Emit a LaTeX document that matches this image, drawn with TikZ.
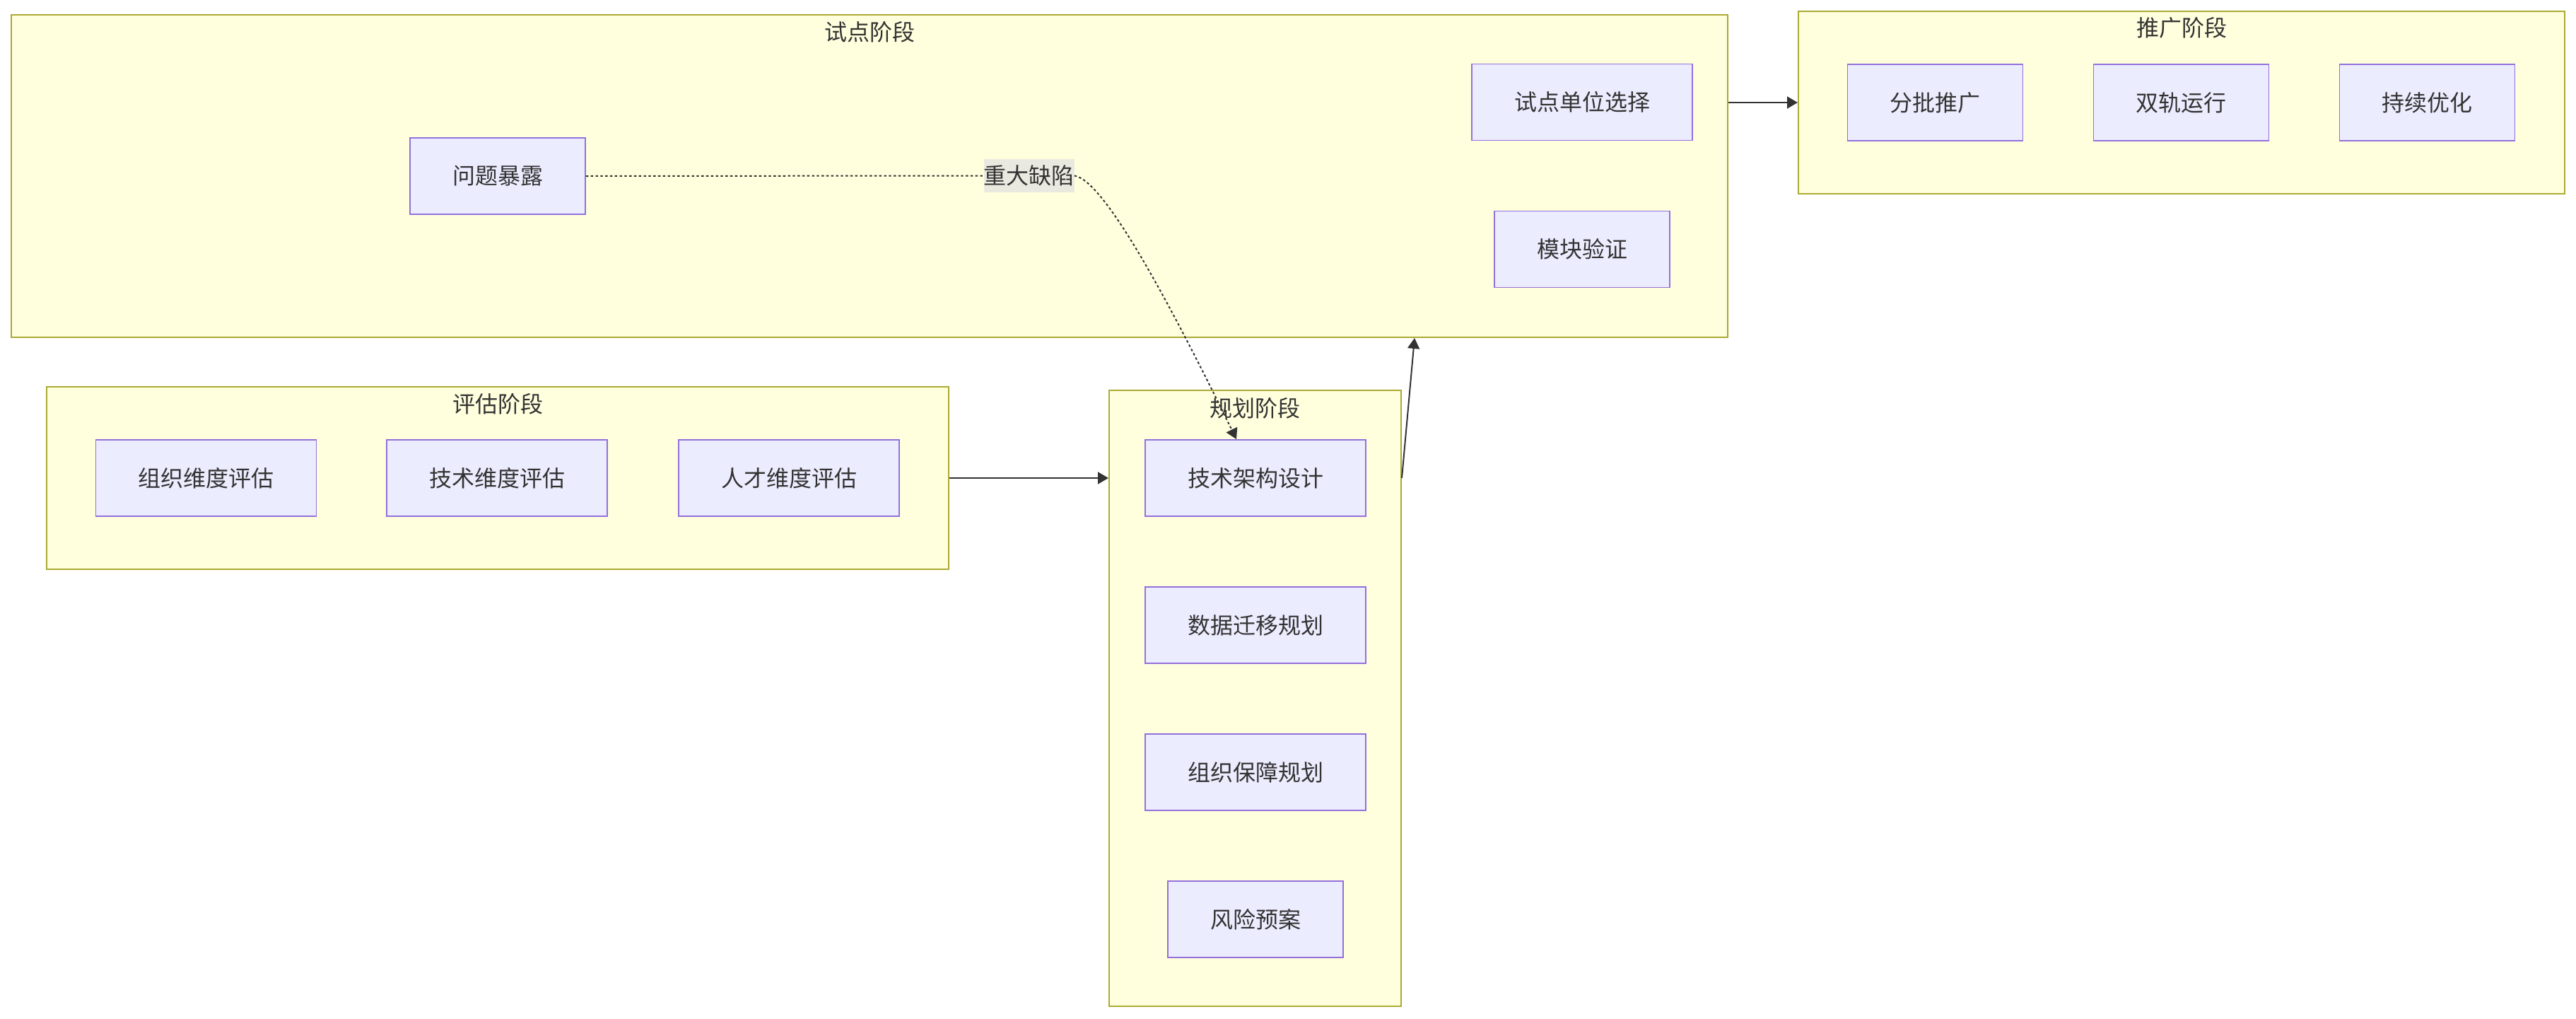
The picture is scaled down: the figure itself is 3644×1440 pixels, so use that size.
\documentclass[tikz,border=0pt]{standalone}
\usepackage{fontspec}
\newfontfamily\cjk{Noto Sans CJK SC}
\usetikzlibrary{arrows.meta,calc}
\definecolor{clfill}{HTML}{FFFFDE}
\definecolor{clline}{HTML}{AAAA33}
\definecolor{ndfill}{HTML}{ECECFF}
\definecolor{ndline}{HTML}{9370DB}
\definecolor{txt}{HTML}{333333}
\definecolor{lblbg}{HTML}{E9E9E0}
\begin{document}
\begin{tikzpicture}[x=0.5pt,y=-0.5pt,
  cluster/.style={rectangle,draw=clline,fill=clfill,line width=1pt,inner sep=0pt},
  box/.style={rectangle,draw=ndline,fill=ndfill,line width=0.9pt,minimum height=54pt,
    inner xsep=30pt,inner ysep=0pt,font=\cjk\fontsize{16}{19}\selectfont,text=txt},
  ctitle/.style={inner sep=0pt,font=\cjk\fontsize{16}{19}\selectfont,text=txt},
  elabel/.style={rectangle,fill=lblbg,inner xsep=0pt,inner ysep=0pt,minimum height=23.5pt,
    font=\cjk\fontsize{16}{19}\selectfont,text=txt},
  edge/.style={draw=txt,line width=1pt,-{Triangle[length=7.5pt,width=8.5pt]}},
  dotline/.style={draw=txt,line width=1pt,dash pattern=on 1.7pt off 1.7pt}]
\useasboundingbox (0,0) rectangle (3644,1440);
\fill[white] (0,0) rectangle (3644,1440);
% clusters
\node[cluster,minimum width=1214pt,minimum height=228pt] (pilot) at (1230,249) {};
\node[cluster,minimum width=542pt,minimum height=129pt] (promo) at (3086,145) {};
\node[cluster,minimum width=638pt,minimum height=129pt] (eval) at (704,676) {};
\node[cluster,minimum width=206.5pt,minimum height=435.5pt] (plan) at (1775.5,987.5) {};
% cluster titles
\node[ctitle] (pilotT) at (1230,45) {试点阶段};
\node[ctitle] (promoT) at (3086,39) {推广阶段};
\node[ctitle] (evalT) at (704,571) {评估阶段};
\node[ctitle] (planT) at (1775.5,577) {规划阶段};
% pilot nodes
\node[box] (p1) at (704,249) {问题暴露};
\node[box] (p2) at (2238,144.5) {试点单位选择};
\node[box] (p3) at (2238,352.5) {模块验证};
% promo nodes
\node[box] (r1) at (2737.5,145) {分批推广};
\node[box] (r2) at (3085.5,145) {双轨运行};
\node[box] (r3) at (3433.5,145) {持续优化};
% eval nodes
\node[box] (e1) at (291.5,676) {组织维度评估};
\node[box] (e2) at (703,676) {技术维度评估};
\node[box] (e3) at (1116,676) {人才维度评估};
% plan nodes
\node[box] (t1) at (1776,676) {技术架构设计};
\node[box] (t2) at (1776,884) {数据迁移规划};
\node[box] (t3) at (1776,1092) {组织保障规划};
\node[box] (t4) at (1776,1300) {风险预案};
% edge label
\node[elabel] (lbl) at (1455.5,248.5) {重大缺陷};
% edges
\draw[edge] (eval.east) -- (eval.east -| plan.west);
\draw[edge] (plan.east |- t1.center) -- ($(plan.east |- pilot.south)+(18,0)$);
\draw[edge] (pilot.east |- promo.west) -- (promo.west);
\draw[dotline] (p1.east) -- (lbl.west);
\draw[dotline,-{Triangle[length=7.5pt,width=8.5pt]}] (lbl.east)
  .. controls +(41,6) and +(-99,-202) .. ($(t1.north)+(-27,0)$);
\end{tikzpicture}
\end{document}
